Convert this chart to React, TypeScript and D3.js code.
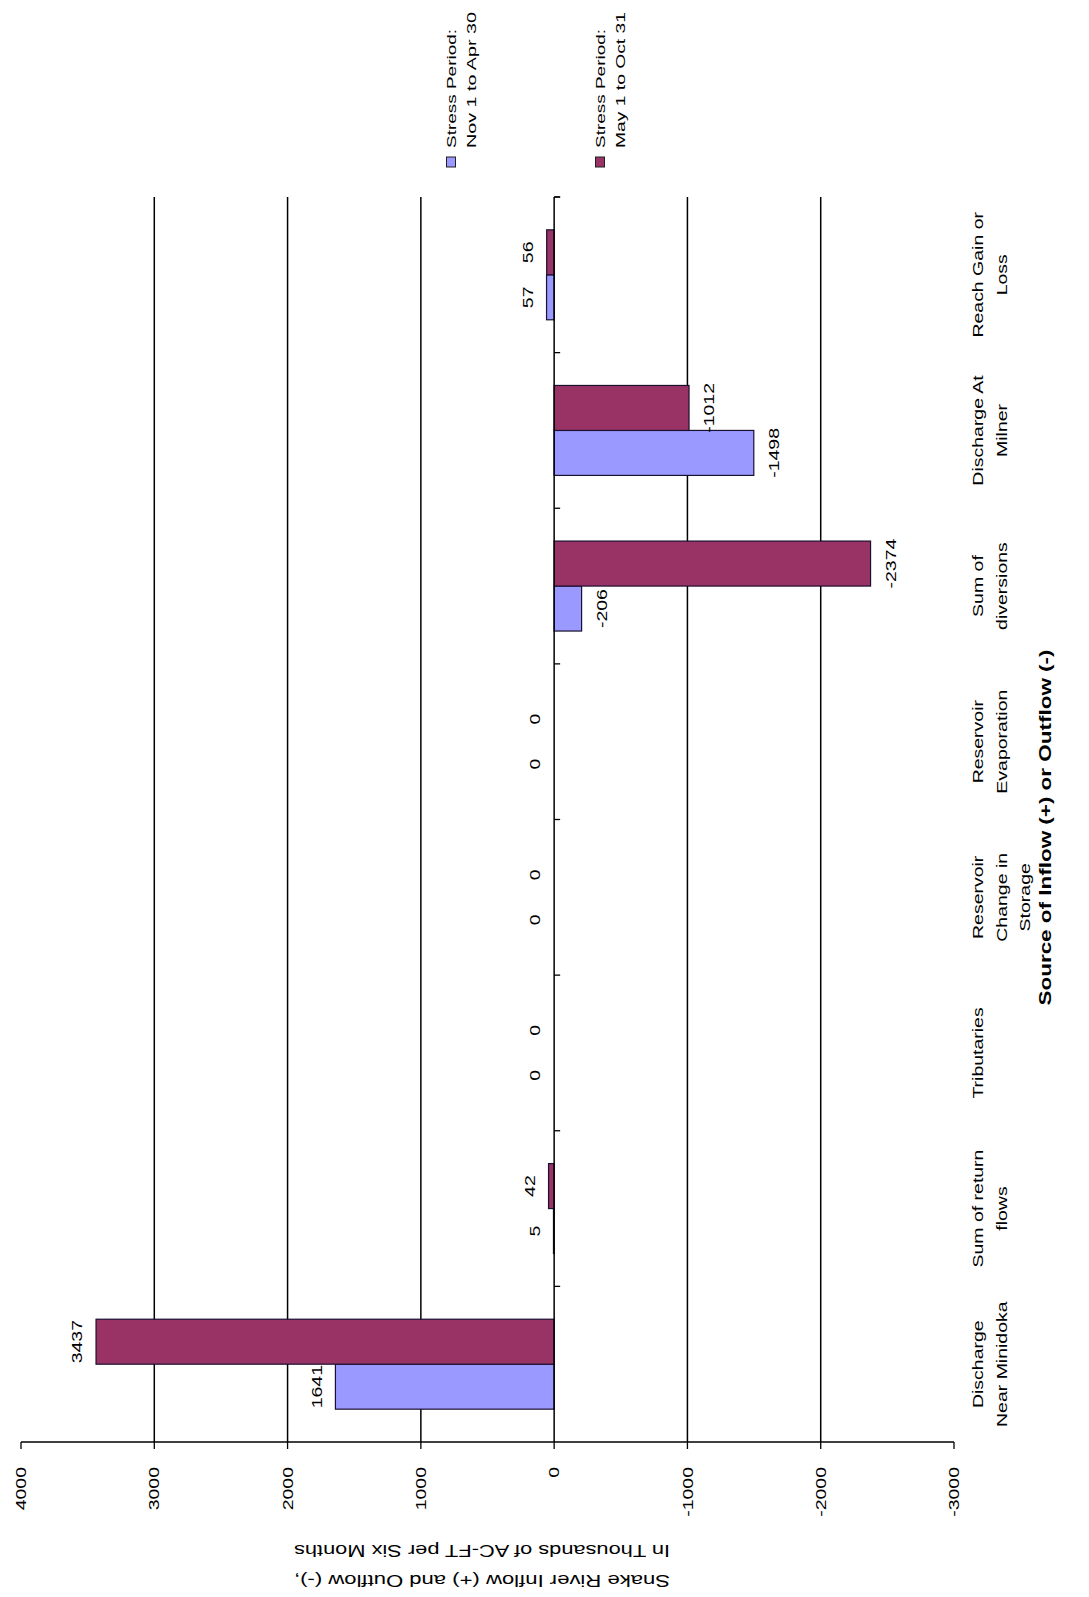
import React from 'react';
import * as d3 from 'd3';

// ---- data ----
const categories = [
  'Discharge\nNear Minidoka',
  'Sum of return\nflows',
  'Tributaries',
  'Reservoir\nChange in\nStorage',
  'Reservoir\nEvaporation',
  'Sum of\ndiversions',
  'Discharge At\nMilner',
  'Reach Gain or\nLoss',
];
const seriesNames = ['Stress Period:\nNov 1 to Apr 30', 'Stress Period:\nMay 1 to Oct 31'];
const novToApr = [1641, 5, 0, 0, 0, -206, -1498, 57];
const mayToOct = [3437, 42, 0, 0, 0, -2374, -1012, 56];
const valueTicks = [4000, 3000, 2000, 1000, 0, -1000, -2000, -3000];
const gridValues = [3000, 2000, 1000, -1000, -2000];
const xTitle = 'Source of Inflow (+) or Outflow (-)';
const yTitleLines = ['Snake River Inflow (+) and Outflow (-),', 'In Thousands of AC-FT per Six Months'];

const colors = ['#9999FF', '#993366'];
const FONT = 'Liberation Sans, Arial, sans-serif';

export default function App() {
  const W = 1089, H = 1597;
  const plotTop = 197, plotBottom = 1442;
  const x = d3.scaleLinear().domain([4000, -3000]).range([21, 954]);
  const y = d3.scaleBand<string>().domain(categories).range([plotBottom, plotTop]);
  const inner = d3.scaleBand<string>().domain(['s2', 's1']).range([0, y.bandwidth()]).paddingOuter(0.73);
  const x0 = x(0);
  const series = [
    { key: 's1', values: novToApr, color: colors[0] },
    { key: 's2', values: mayToOct, color: colors[1] },
  ];
  const sx = 1.3;

  const rotText = (tx: number, ty: number, s: string, anchor: string, fs: number, key: string, extra: any = {}) => (
    <text key={key} transform={`translate(${tx},${ty}) rotate(-90) scale(${sx},1)`} textAnchor={anchor}
      dominantBaseline="central" fontSize={fs} fontFamily={FONT} fill="#000" {...extra}>{s}</text>
  );

  const boundaries = categories.map((c) => (y(c) as number)).concat([plotTop]);

  return (
    <svg width={W} height={H} style={{ position: 'absolute', left: 0, top: 0, background: '#fff' }}>
      <rect x={0} y={0} width={W} height={H} fill="#fff" />
      {/* gridlines */}
      {gridValues.map((v) => (
        <line key={'g' + v} x1={x(v)} x2={x(v)} y1={plotTop} y2={plotBottom} stroke="#000" strokeWidth={1.5} />
      ))}
      {/* bars */}
      {series.map((s) =>
        categories.map((c, i) => {
          const v = s.values[i];
          const yy = (y(c) as number) + (inner(s.key) as number);
          const xa = Math.min(x(v), x0), xb = Math.max(x(v), x0);
          return v === 0 ? null : (
            <rect key={s.key + i} x={xa} y={yy} width={Math.max(xb - xa, 0.5)} height={inner.bandwidth()}
              fill={s.color} stroke="#1a1030" strokeWidth={1.2} />
          );
        })
      )}
      {/* category axis (zero line) */}
      <line x1={x0} x2={x0} y1={plotTop} y2={plotBottom} stroke="#000" strokeWidth={1.5} />
      {boundaries.map((b, i) => (
        <line key={'ct' + i} x1={x0} x2={x0 + 6} y1={b} y2={b} stroke="#000" strokeWidth={1.3} />
      ))}
      {/* value axis */}
      <line x1={x(4000)} x2={x(-3000)} y1={plotBottom} y2={plotBottom} stroke="#000" strokeWidth={1.5} />
      {valueTicks.map((t) => (
        <g key={'t' + t}>
          <line x1={x(t)} x2={x(t)} y1={plotBottom} y2={plotBottom + 7} stroke="#000" strokeWidth={1.3} />
          {rotText(x(t), 1467, String(t), 'end', 15, 'tl' + t)}
        </g>
      ))}
      {/* data labels */}
      {series.map((s) =>
        categories.map((c, i) => {
          const v = s.values[i];
          const cy = (y(c) as number) + (inner(s.key) as number) + inner.bandwidth() / 2;
          const lx = v >= 0 ? x(v) - 19 : x(v) + 20;
          return rotText(lx, cy, String(v), 'middle', 15, 'dl' + s.key + i);
        })
      )}
      {/* category labels */}
      {categories.map((c, i) => {
        const cy = (y(c) as number) + y.bandwidth() / 2;
        return c.split('\n').map((line, j) => rotText(978 + j * 23.5, cy, line, 'middle', 15, 'cl' + i + '_' + j));
      })}
      {/* x title (bold) */}
      <text transform={`translate(1045,${(plotTop + plotBottom) / 2 + 8}) rotate(-90)`} textAnchor="middle"
        dominantBaseline="central" fontSize={16} fontWeight="bold" fontFamily={FONT} textLength={356}
        lengthAdjust="spacingAndGlyphs">{xTitle}</text>
      {/* y title (upside down) */}
      {yTitleLines.map((line, j) => (
        <text key={'yt' + j} transform={`translate(482,${1580 - j * 30}) rotate(180)`} textAnchor="middle"
          dominantBaseline="central" fontSize={17} fontFamily={FONT} textLength={376}
          lengthAdjust="spacingAndGlyphs">{line}</text>
      ))}
      {/* legend */}
      {seriesNames.map((name, k) => {
        const lx = [451, 600][k];
        return (
          <g key={'lg' + k}>
            <rect x={lx - 4.5} y={157} width={9} height={10} fill={colors[k]} stroke="#222" strokeWidth={1} />
            {name.split('\n').map((line, j) => (
              <text key={j} transform={`translate(${lx + j * 20},${148}) rotate(-90)`} textAnchor="start"
                dominantBaseline="central" fontSize={13} fontFamily={FONT}
                textLength={j === 0 ? 119 : 136} lengthAdjust="spacingAndGlyphs">{line}</text>
            ))}
          </g>
        );
      })}
    </svg>
  );
}
